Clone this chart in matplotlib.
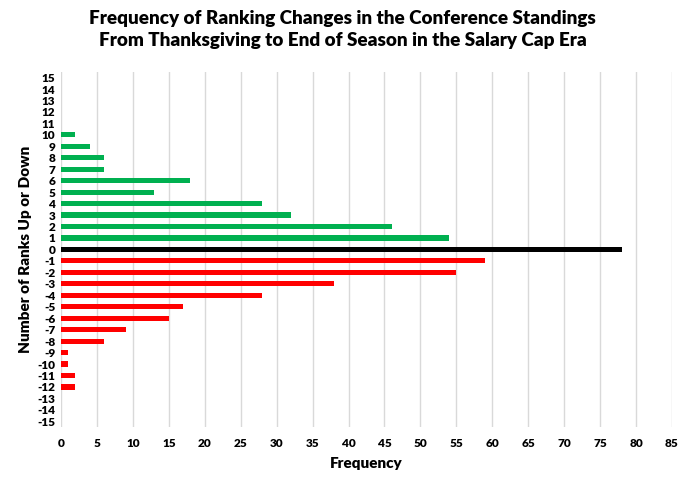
import matplotlib.pyplot as plt

plt.rcParams['font.family'] = ['Lato', 'DejaVu Sans']

rangos = list(range(-15, 16))
frecuencias = {
    10: 2, 9: 4, 8: 6, 7: 6, 6: 18, 5: 13, 4: 28, 3: 32, 2: 46, 1: 54,
    0: 78,
    -1: 59, -2: 55, -3: 38, -4: 28, -5: 17, -6: 15, -7: 9, -8: 6,
    -9: 1, -10: 1, -11: 2, -12: 2,
}
valores = [frecuencias.get(r, 0) for r in rangos]


def color_de(r):
    if r > 0:
        return "#00b050"
    if r < 0:
        return "#ff0000"
    return "#000000"


colores = [color_de(r) for r in rangos]

fig = plt.figure(figsize=(6.85, 4.82), dpi=100)
ax = fig.add_axes([0.089, 0.114, 0.892, 0.737])

ax.barh(rangos, valores, height=0.45, color=colores, zorder=3)

ax.set_xlim(0, 85)
ax.set_ylim(-15.5, 15.5)
ax.set_xticks(range(0, 86, 5))
ax.set_yticks(rangos)
ax.set_yticklabels([str(r) for r in rangos])

ax.grid(axis="x", color="#d9d9d9", linewidth=1, zorder=0)
for lado in ax.spines.values():
    lado.set_visible(False)
ax.tick_params(length=0, labelsize=8.5)
ax.tick_params(axis="x", pad=8)
ax.tick_params(axis="y", pad=4)
for t in ax.get_xticklabels() + ax.get_yticklabels():
    t.set_fontweight("heavy")

ax.set_xlabel("Frequency", fontsize=11, fontweight="heavy", labelpad=6)
ax.set_ylabel("Number of Ranks Up or Down", fontsize=11, fontweight="heavy", labelpad=4)

fig.suptitle("Frequency of Ranking Changes in the Conference Standings\n"
             "From Thanksgiving to End of Season in the Salary Cap Era",
             fontsize=13.6, fontweight="heavy", y=0.98, linespacing=1.35)

plt.savefig("out.png")
plt.close()
